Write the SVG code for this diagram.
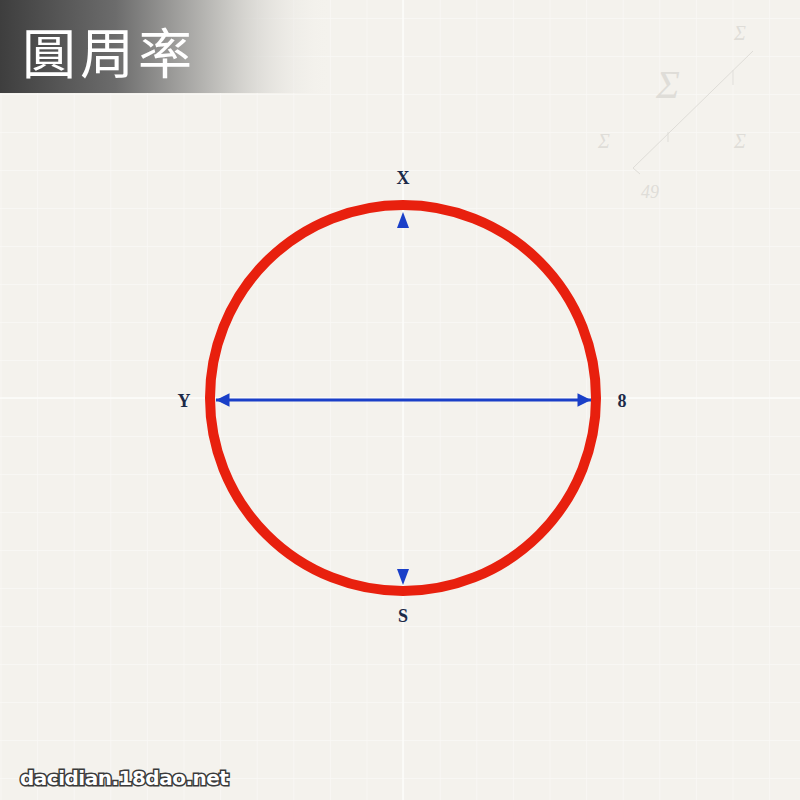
<svg xmlns="http://www.w3.org/2000/svg" width="800" height="800" viewBox="0 0 800 800">
<defs>
<pattern id="grid" x="0.5" y="18" width="36.6" height="38" patternUnits="userSpaceOnUse">
<path d="M0 0V38M0 0H36.6" fill="none" stroke="#faf9f6" stroke-width="1.5"/>
</pattern>
<linearGradient id="band" x1="0" y1="0" x2="1" y2="0">
<stop offset="0" stop-color="#3e3e3e"/>
<stop offset="0.35" stop-color="#6c6c6c"/>
<stop offset="0.7" stop-color="#cbcac6"/>
<stop offset="1" stop-color="#f4f2ed" stop-opacity="0"/>
</linearGradient>
<marker id="ah" viewBox="0 0 10 10" refX="10" refY="5" markerWidth="6" markerHeight="4.5" orient="auto-start-reverse" markerUnits="strokeWidth">
<path d="M0 0L10 5L0 10Z" fill="#1a3fc8"/>
</marker>
<style>
.lbl{font-family:"Liberation Serif",serif;font-weight:bold;font-size:18px;fill:#1c2a48;text-anchor:middle;dominant-baseline:central}
.deco{font-family:"Liberation Serif",serif;font-style:italic;fill:#dfddd8}
</style>
</defs>
<rect width="800" height="800" fill="#f4f2ed"/>
<rect width="800" height="800" fill="url(#grid)"/>
<line x1="403" y1="0" x2="403" y2="800" stroke="#fdfcfa" stroke-width="1.5"/>
<line x1="0" y1="398" x2="800" y2="398" stroke="#fdfcfa" stroke-width="1.5"/>
<g id="title">
<rect x="0" y="0" width="330" height="93" fill="url(#band)"/>
<text x="22" y="74" font-family="'Noto Sans CJK TC',serif" font-size="54" fill="#ffffff" letter-spacing="4">圓周率</text>
</g>
<g id="decoration">
<text x="740" y="40" class="deco" font-size="20" text-anchor="middle">Σ</text>
<text x="668" y="98" class="deco" font-size="40" text-anchor="middle">Σ</text>
<text x="604" y="148" class="deco" font-size="20" text-anchor="middle">Σ</text>
<text x="740" y="148" class="deco" font-size="20" text-anchor="middle">Σ</text>
<text x="650" y="198" class="deco" font-size="18" text-anchor="middle">49</text>
<path d="M753 51L633 168L640 174M668 132V142M733 70V85" fill="none" stroke="#dfddd8" stroke-width="1"/>
</g>
<g id="circle">
<circle cx="403" cy="398" r="193" fill="none" stroke="#e8200e" stroke-width="10"/>
</g>
<g id="connectors">
<line x1="216" y1="400" x2="591" y2="400" stroke="#1a3fc8" stroke-width="3" marker-start="url(#ah)" marker-end="url(#ah)"/>
<path d="M403 212L409 228H397Z" fill="#1a3fc8"/>
<path d="M403 585L409 569H397Z" fill="#1a3fc8"/>
</g>
<g id="label-x"><text x="403" y="178" class="lbl">X</text></g>
<g id="label-y"><text x="184" y="401" class="lbl">Y</text></g>
<g id="label-8"><text x="622" y="401" class="lbl">8</text></g>
<g id="label-s"><text x="403" y="616" class="lbl">S</text></g>
<g id="watermark">
<text x="20" y="785" font-family="'DejaVu Sans',sans-serif" font-weight="bold" font-size="20" fill="#ffffff" stroke="#3a3a3a" stroke-width="3" paint-order="stroke" letter-spacing="-0.5">dacidian.18dao.net</text>
</g>
</svg>
